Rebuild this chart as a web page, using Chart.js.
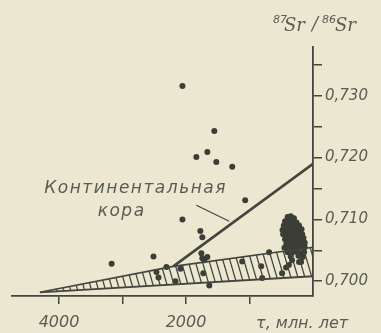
<!DOCTYPE html>
<html>
<head>
<meta charset="utf-8">
<script src="https://cdn.jsdelivr.net/npm/chart.js@4.4.1/dist/chart.umd.min.js"></script>
<style>
  html, body { margin: 0; padding: 0; background: #ebe7d0; }
  #wrap { width: 381px; height: 333px; position: relative; }
</style>
</head>
<body>
<div id="wrap"><canvas id="myChart" width="381" height="333"></canvas></div>
<script>
// tau, Myr (x) and 87Sr/86Sr (y)
var xTicks = [1000, 2000, 3000, 4000];
var xTickLabels = {2000: "2000", 4000: "4000"};
var yTicks = [0.700, 0.705, 0.710, 0.715, 0.720, 0.725, 0.730, 0.735];
var yTickLabels = {0.700: "0,700", 0.710: "0,710", 0.720: "0,720", 0.730: "0,730"};

var crustTau = [2200, 0];
var crustSr = [0.7024, 0.7190];

var bandLowTau = [4300, 0];
var bandLowSr = [0.6982, 0.7008];
var bandHighTau = [4300, 2200, 0];
var bandHighSr = [0.6982, 0.7024, 0.7055];

var leaderTau = [1837, 1319];
var leaderSr = [0.7123, 0.7097];

var samplesTau = [2056, 1554, 1837, 1664, 1523, 1272, 1068, 2056, 1774, 1743,
    3171, 2512, 1758, 1743, 1664, 1711, 2465, 2433, 2308, 2087,
    2166, 1727, 1633, 1115, 816, 800, 691, 487, 424, 188];
var samplesSr = [0.7316, 0.7243, 0.7201, 0.7209, 0.7193, 0.7185, 0.7131, 0.7100, 0.7081, 0.7071,
    0.7028, 0.7040, 0.7045, 0.7037, 0.7039, 0.7034, 0.7015, 0.7006, 0.7023, 0.7020,
    0.7000, 0.7013, 0.6993, 0.7032, 0.7024, 0.7005, 0.7047, 0.7013, 0.7022, 0.7031];

// young rocks, the dark cluster near the axis
var youngTau = [400, 350, 300, 440, 380, 320, 260, 460, 400, 340, 280, 220,
    480, 420, 360, 300, 240, 180, 470, 410, 350, 290, 230, 170,
    440, 380, 320, 260, 200, 150, 420, 360, 300, 240, 180, 130,
    450, 380, 310, 250, 190, 130, 400, 330, 270, 200, 140, 350, 230, 160, 330, 220, 380];
var youngSr = [0.7104, 0.7105, 0.7102, 0.7097, 0.7097, 0.7096, 0.7095, 0.7090, 0.7090, 0.7089, 0.7088, 0.7090,
    0.7083, 0.7082, 0.7084, 0.7081, 0.7082, 0.7084, 0.7076, 0.7075, 0.7076, 0.7074, 0.7075, 0.7076,
    0.7068, 0.7068, 0.7067, 0.7069, 0.7068, 0.7070, 0.7061, 0.7060, 0.7062, 0.7060, 0.7061, 0.7062,
    0.7054, 0.7053, 0.7054, 0.7052, 0.7055, 0.7055, 0.7047, 0.7046, 0.7048, 0.7045, 0.7047,
    0.7040, 0.7041, 0.7039, 0.7034, 0.7031, 0.7026];

var crustLabel = ["Континентальная", "кора"];
var crustLabelTau = [2794, 3014];
var crustLabelSr = [0.7152, 0.7115];

function pts(xs, ys) {
    var out = [];
    for (var i = 0; i < xs.length; i++) out.push({x: xs[i], y: ys[i]});
    return out;
}

var ink = "#43463f";
var textInk = "#595c53";

// hatch for the band
var pc = document.createElement("canvas");
pc.width = 7; pc.height = 24;
var pctx = pc.getContext("2d");
pctx.strokeStyle = ink;
pctx.lineWidth = 1.3;
for (var k = -1; k <= 1; k++) {
    pctx.beginPath();
    pctx.moveTo(k * 7, 0);
    pctx.lineTo(k * 7 + 7, 24);
    pctx.stroke();
}
var hatch = document.getElementById("myChart").getContext("2d").createPattern(pc, "repeat");

var paper = {
    id: "paper",
    beforeDraw: function (chart) {
        var c = chart.ctx;
        c.save();
        c.fillStyle = "#ebe7d0";
        c.fillRect(0, 0, chart.width, chart.height);
        c.restore();
    },
    afterDraw: function (chart) {
        var c = chart.ctx;
        var xs = chart.scales.x, ys = chart.scales.y;
        c.save();
        c.fillStyle = textInk;
        c.textBaseline = "alphabetic";
        // crust label
        c.font = "italic 17px 'DejaVu Sans'";
        c.textAlign = "center";
        c.letterSpacing = "1.5px";
        for (var i = 0; i < crustLabel.length; i++) {
            c.fillText(crustLabel[i], xs.getPixelForValue(crustLabelTau[i]), ys.getPixelForValue(crustLabelSr[i]) + 6);
        }
        c.letterSpacing = "0px";
        // axis title x
        c.textAlign = "left";
        c.font = "italic 16px 'DejaVu Sans'";
        c.fillText("τ, млн. лет", 256, 328);
        // axis title y
        var x0 = 273;
        c.font = "italic 11px 'DejaVu Sans'";
        c.fillText("87", x0, 23);
        c.font = "italic 18px 'DejaVu Serif'";
        c.fillText("Sr", x0 + 11, 31);
        c.fillText("/", x0 + 39, 30);
        c.font = "italic 11px 'DejaVu Sans'";
        c.fillText("86", x0 + 49, 23);
        c.font = "italic 18px 'DejaVu Serif'";
        c.fillText("Sr", x0 + 62, 31);
        c.restore();
    }
};

var ctx = document.getElementById("myChart").getContext("2d");
var myChart = new Chart(ctx, {
    type: "scatter",
    data: {
        datasets: [
            {
                type: "line", data: pts(bandLowTau, bandLowSr),
                borderColor: ink, borderWidth: 1.8, pointRadius: 0, fill: false
            },
            {
                type: "line", data: pts(bandHighTau, bandHighSr),
                borderColor: ink, borderWidth: 1.6, pointRadius: 0,
                fill: "-1", backgroundColor: hatch
            },
            {
                type: "line", data: pts(crustTau, crustSr),
                borderColor: ink, borderWidth: 2.6, pointRadius: 0, fill: false
            },
            {
                type: "line", data: pts(leaderTau, leaderSr),
                borderColor: ink, borderWidth: 1.2, pointRadius: 0, fill: false
            },
            {
                data: pts(samplesTau, samplesSr),
                backgroundColor: "#3b3e37", borderWidth: 0, pointRadius: 3
            },
            {
                data: pts(youngTau, youngSr),
                backgroundColor: "#3b3e37", borderWidth: 0, pointRadius: 3
            }
        ]
    },
    options: {
        responsive: false,
        animation: false,
        layout: { padding: { top: 47, left: 12, right: 0, bottom: 0 } },
        plugins: { legend: { display: false }, tooltip: { enabled: false } },
        scales: {
            x: {
                type: "linear", reverse: true, min: 0, max: 4740,
                afterBuildTicks: function (s) { s.ticks = xTicks.map(function (v) { return {value: v}; }); },
                afterFit: function (s) { s.height = 37; },
                ticks: {
                    autoSkip: false, maxRotation: 0, padding: 9,
                    color: textInk, font: { family: "DejaVu Sans", size: 16, style: "italic" },
                    callback: function (v) { return xTickLabels[v] || ""; }
                },
                grid: { drawOnChartArea: false, drawTicks: true, tickLength: 8, color: ink, lineWidth: 1.5 },
                border: { display: true, color: ink, width: 1.8 }
            },
            y: {
                type: "linear", position: "right", min: 0.6976, max: 0.7379,
                afterBuildTicks: function (s) { s.ticks = yTicks.map(function (v) { return {value: v}; }); },
                afterFit: function (s) { s.width = 68; },
                ticks: {
                    autoSkip: false, padding: 3,
                    color: textInk, font: { family: "DejaVu Sans", size: 15, style: "italic" },
                    callback: function (v) {
                        var key = (Math.round(v * 1000) / 1000).toFixed(3);
                        for (var t in yTickLabels) {
                            if (parseFloat(t).toFixed(3) === key) return yTickLabels[t];
                        }
                        return "";
                    }
                },
                grid: { drawOnChartArea: false, drawTicks: true, tickLength: 9, color: ink, lineWidth: 1.5 },
                border: { display: true, color: ink, width: 1.8 }
            }
        }
    },
    plugins: [paper]
});
</script>
</body>
</html>
